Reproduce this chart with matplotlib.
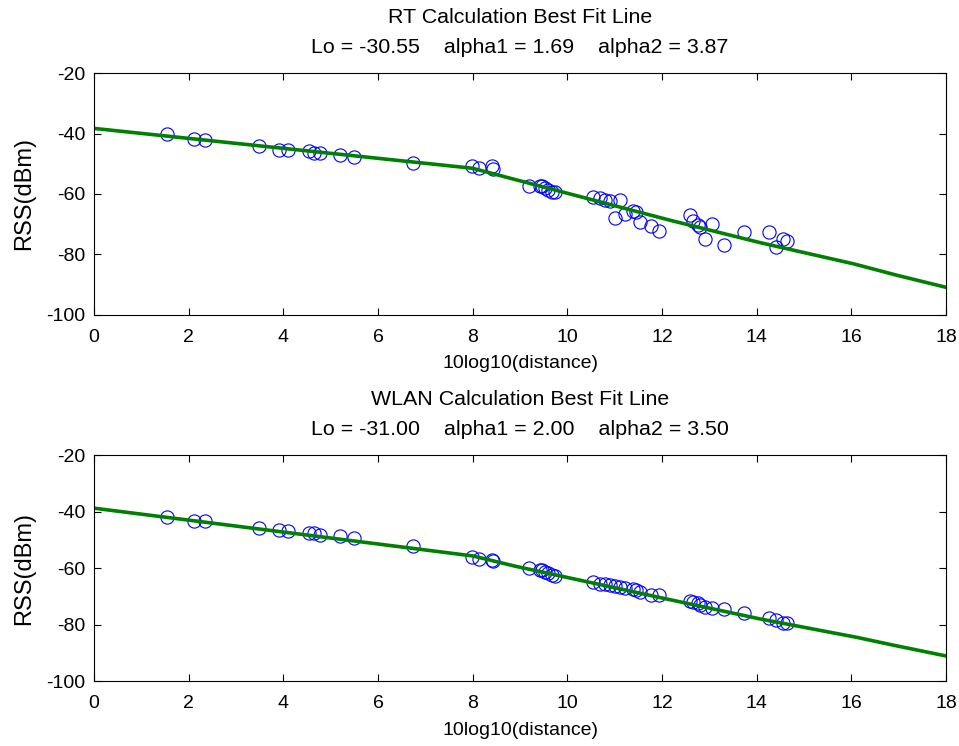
import matplotlib
matplotlib.use('Agg')
import matplotlib.pyplot as plt

plt.rcParams['font.family'] = ['Liberation Sans', 'DejaVu Sans']
plt.rcParams['axes.unicode_minus'] = False

# distances in 10log10(d), shared by both panels
dist_db = [1.55, 2.12, 2.34, 3.49, 3.91, 4.10, 4.54, 4.65, 4.77, 5.20, 5.49,
           6.73, 7.99, 8.14, 8.40, 8.42,
           9.19, 9.42, 9.47, 9.53, 9.60, 9.67, 9.74,
           10.55, 10.69, 10.80, 10.90, 11.01, 11.11, 11.22, 11.39, 11.45, 11.54, 11.77, 11.94,
           12.60, 12.65, 12.75, 12.80, 12.91, 13.05, 13.30,
           13.73, 14.27, 14.41, 14.55, 14.64]

rt_rss = [-40.3, -41.7, -42.2, -44.1, -45.3, -45.3, -45.9, -46.5, -46.6, -47.2, -47.9,
          -49.7, -50.8, -51.3, -50.8, -51.7,
          -57.5, -57.3, -57.5, -58.1, -58.6, -59.2, -59.2,
          -61.1, -61.5, -61.9, -62.2, -67.8, -62.0, -66.7, -65.6, -66.1, -69.4, -70.6, -72.2,
          -67.0, -68.9, -70.3, -71.1, -74.8, -70.0, -76.9,
          -72.6, -72.6, -77.5, -75.0, -75.6]

wlan_rss = [-41.9, -43.2, -43.2, -45.7, -46.4, -47.0, -47.6, -47.6, -48.3, -48.8, -49.5,
            -52.3, -56.0, -56.8, -57.1, -57.4,
            -60.1, -60.6, -60.8, -61.3, -61.9, -62.5, -62.9,
            -64.9, -65.5, -65.7, -66.1, -66.4, -66.7, -67.0, -67.5, -67.9, -68.5, -69.4, -69.6,
            -71.8, -72.1, -72.4, -72.9, -73.6, -74.2, -74.6,
            -76.0, -77.6, -78.5, -79.3, -79.5]

# fitted lines
rt_fit_x = [0, 8.0, 8.89, 12.17, 14.07, 16.04, 16.96, 18.0]
rt_fit_y = [-38.3, -51.5, -55.2, -68.7, -76.1, -83.1, -86.9, -90.9]
wlan_fit_x = [0, 8.0, 8.89, 12.06, 14.07, 16.11, 16.89, 18.0]
wlan_fit_y = [-38.8, -55.7, -59.3, -70.8, -78.0, -84.5, -87.3, -91.1]

titles = ['RT Calculation Best Fit Line\nLo = -30.55    alpha1 = 1.69    alpha2 = 3.87',
          'WLAN Calculation Best Fit Line\nLo = -31.00    alpha1 = 2.00    alpha2 = 3.50']

fig = plt.figure(figsize=(9.59, 7.46), dpi=100)
ax1 = fig.add_axes([0.098, 0.578, 0.8885, 0.324])
ax2 = fig.add_axes([0.098, 0.087, 0.8885, 0.303])

panels = [(ax1, rt_rss, rt_fit_x, rt_fit_y, titles[0]),
          (ax2, wlan_rss, wlan_fit_x, wlan_fit_y, titles[1])]

for ax, rss, fx, fy, title in panels:
    ax.plot(dist_db, rss, 'o', mfc='none', mec='#0000ff', ms=9.5, mew=0.8)
    ax.plot(fx, fy, '-', color='#008000', lw=2.6)
    ax.set_xlim(0, 18)
    ax.set_ylim(-100, -20)
    ax.set_xticks(range(0, 19, 2))
    ax.set_yticks(range(-100, -19, 20))
    ax.tick_params(direction='in', top=True, right=True, length=5, width=0.8,
                   labelsize=14)
    ax.tick_params(axis='x', pad=10)
    ax.tick_params(axis='y', pad=6)
    for s in ax.spines.values():
        s.set_linewidth(0.8)
    ax.set_xlabel('10log10(distance)', fontsize=14, labelpad=7)
    ax.set_ylabel('RSS(dBm)', fontsize=17, labelpad=8)
    ax.set_title(title, fontsize=15.4, pad=14.5, linespacing=1.75)

fig.savefig('out.png', dpi=100)
